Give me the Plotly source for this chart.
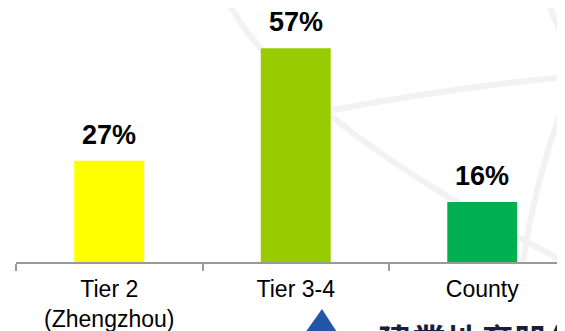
import plotly.graph_objects as go

FONT = "Arial, 'Liberation Sans', sans-serif"
CJK = "'Noto Sans CJK TC', sans-serif"

categories = ['Tier 2<br>(Zhengzhou)', 'Tier 3-4', 'County']
shares = [27, 57, 16]
bar_colors = ['#ffff00', '#99cc00', '#00b050']
labels = [f'{v}%' for v in shares]

# page body has an 8px margin, so the figure sits 8px in from the window corner;
# make it 8px bigger so it still fills the window
OFF = 8
W, H = 565 + OFF, 331 + OFF
AXIS_Y = 262          # axis line, in window pixels
L = 16 - OFF
T = 0
B = H - (AXIS_Y - OFF)
PW, PH = W - L, H - T - B
CAT_PX = 186.5        # pixels per category
PCT_PX = 3.75         # pixels per percentage point


def px(x, y):
    # window pixels -> paper fractions
    fx, fy = x - OFF, y - OFF
    return (fx - L) / PW, (T + PH - fy) / PH


def path(points):
    pts = [px(*p) for p in points]
    s = f'M {pts[0][0]:.4f},{pts[0][1]:.4f} Q '
    s += ' '.join(f'{a:.4f},{b:.4f}' for a, b in pts[1:])
    return s


fig = go.Figure(go.Bar(
    x=categories,
    y=shares,
    marker=dict(color=bar_colors, line=dict(width=0)),
    hovertemplate='%{x}: %{y}%<extra></extra>',
))

for c, v, t in zip(categories, shares, labels):
    fig.add_annotation(x=c, y=v, text=f'<b>{t}</b>', showarrow=False,
                       yanchor='bottom', yshift=9,
                       font=dict(family=FONT, size=27, color='#000000'))

# faint watermark arcs
arcs = [
    [(227, 0), (290, 120), (565, 262)],
    [(333, 110), (450, 88), (565, 77)],
    [(547, 0), (555, 20), (565, 43)],
    [(565, 100), (535, 180), (523, 262)],
]
for a in arcs:
    fig.add_shape(type='path', path=path(a), xref='paper', yref='paper',
                  line=dict(color='#f2f2f2', width=6), layer='below')

# logo
tri = [px(322, 309), px(300, 340), px(342, 340)]
fig.add_shape(type='path', xref='paper', yref='paper',
              path=f'M {tri[0][0]},{tri[0][1]} L {tri[1][0]},{tri[1][1]} L {tri[2][0]},{tri[2][1]} Z',
              fillcolor='#2356a6', line=dict(width=0))
lx, ly = px(376, 313)
fig.add_annotation(x=lx, y=ly, xref='paper', yref='paper', text='<b>建業地產股份有限公司</b>',
                   showarrow=False, xanchor='left', yanchor='top',
                   font=dict(family=CJK, size=34, color='#1c1c3c'))

fig.update_layout(
    width=W, height=H,
    margin=dict(l=L, r=0, t=T, b=B),
    paper_bgcolor='white',
    plot_bgcolor='white',
    showlegend=False,
    bargap=0.625,
    font=dict(family=FONT, size=23, color='#000000'),
)
fig.update_xaxes(
    range=[-0.5, -0.5 + PW / CAT_PX],
    showline=True, linecolor='#999999', linewidth=2,
    ticks='outside', tickson='boundaries', ticklen=7, tickcolor='#999999', tickwidth=1.5,
    tickfont=dict(size=23, color='#000000'), ticklabelstandoff=5,
    showgrid=False, automargin=False,
)
fig.update_yaxes(range=[0, PH / PCT_PX], visible=False, showgrid=False, zeroline=False)

fig.write_html('out.html')
